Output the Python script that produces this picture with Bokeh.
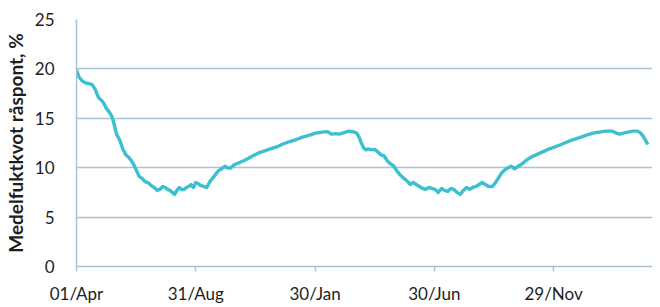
from datetime import date
from bokeh.plotting import figure
from bokeh.models import Range1d, FixedTicker
from bokeh.embed import file_html
from bokeh.resources import INLINE

# ---- data -------------------------------------------------------------
start_date = date(2011, 4, 1)
tick_dates = [date(2011, 4, 1), date(2011, 8, 31), date(2012, 1, 30),
              date(2012, 6, 30), date(2012, 11, 29)]
tick_labels = ["01/Apr", "31/Aug", "30/Jan", "30/Jun", "29/Nov"]

# days since 01/Apr
days = [0, 3, 7, 11, 16, 20, 24, 28, 32, 35, 38, 42, 45, 47, 51, 55, 59, 63, 67, 70,
        73, 76, 80, 84, 87, 91, 95, 99, 103, 106, 110, 113, 116, 119, 122, 125, 128, 131, 134, 137,
        140, 143, 146, 149, 152, 155, 158, 162, 166, 170, 174, 177, 181, 185, 189, 192, 196, 201, 207, 213,
        218, 225, 232, 240, 247, 255, 263, 272, 280, 288, 297, 305, 313, 320, 325, 330, 335, 341, 347, 352,
        357, 360, 363, 366, 369, 372, 376, 380, 384, 388, 392, 396, 400, 404, 408, 412, 416, 419, 422, 425,
        429, 433, 437, 441, 445, 449, 453, 457, 461, 465, 469, 473, 477, 481, 485, 489, 493, 497, 501, 505,
        509, 513, 517, 521, 525, 530, 534, 538, 542, 546, 550, 554, 558, 562, 568, 574, 580, 587, 594, 601,
        608, 616, 625, 633, 641, 650, 658, 666, 675, 683, 688, 692, 697, 703, 709, 715, 719, 722, 725, 728]
moisture = [19.9, 19.2, 18.8, 18.6, 18.5, 18.4, 17.9, 17.1, 16.8, 16.5, 16.0, 15.6, 15.2, 14.7, 13.4, 12.8, 11.9, 11.3, 11.0, 10.7,
            10.3, 9.8, 9.1, 8.9, 8.6, 8.5, 8.2, 8.0, 7.7, 7.8, 8.1, 8.0, 7.8, 7.7, 7.5, 7.3, 7.7, 8.0, 7.8, 7.8,
            8.0, 8.1, 8.3, 8.0, 8.5, 8.4, 8.2, 8.1, 8.0, 8.6, 9.0, 9.3, 9.7, 9.9, 10.15, 10.0, 9.95, 10.3, 10.5, 10.7,
            10.9, 11.2, 11.5, 11.7, 11.9, 12.1, 12.4, 12.65, 12.85, 13.1, 13.3, 13.5, 13.6, 13.65, 13.4, 13.45, 13.4, 13.55, 13.7, 13.65,
            13.5, 13.1, 12.5, 12.0, 11.8, 11.9, 11.8, 11.85, 11.6, 11.3, 11.2, 10.7, 10.4, 10.2, 9.7, 9.3, 9.0, 8.8, 8.6, 8.3,
            8.5, 8.3, 8.1, 7.9, 7.8, 8.0, 7.9, 7.8, 7.5, 7.9, 7.7, 7.6, 7.9, 7.8, 7.5, 7.3, 7.7, 8.0, 7.8, 8.0,
            8.1, 8.3, 8.5, 8.3, 8.1, 8.1, 8.5, 9.0, 9.5, 9.8, 10.0, 10.15, 9.9, 10.1, 10.4, 10.8, 11.1, 11.35, 11.6, 11.85,
            12.05, 12.3, 12.6, 12.85, 13.05, 13.3, 13.5, 13.6, 13.7, 13.7, 13.5, 13.4, 13.5, 13.6, 13.7, 13.7, 13.5, 13.2, 12.8, 12.35]

y_ticks = [0, 5, 10, 15, 20, 25]
y_label = "Medelfuktkvot råspont, %"

# ---- figure -----------------------------------------------------------
tick_days = [(d - start_date).days for d in tick_dates]

p = figure(width=652, height=306, output_backend="svg", toolbar_location=None,
           x_range=Range1d(0, 734), y_range=Range1d(0, 25),
           min_border_left=70, min_border_right=0, min_border_top=19, min_border_bottom=40)
p.outline_line_color = None
p.background_fill_color = "white"
p.border_fill_color = "white"

grid_col = "#a9c2d4"
text_col = "#1e1e1e"

p.line(days, moisture, line_color="#3cc0cf", line_width=3.4, line_join="round")

# x axis
p.xaxis.ticker = FixedTicker(ticks=tick_days)
p.xaxis.major_label_overrides = {t: l for t, l in zip(tick_days, tick_labels)}
p.xaxis.axis_line_color = grid_col
p.xaxis.axis_line_width = 1.5
p.xaxis.major_tick_line_color = grid_col
p.xaxis.major_tick_line_width = 1.5
p.xaxis.major_tick_out = 5
p.xaxis.major_tick_in = 0
p.xaxis.minor_tick_line_color = None
p.xaxis.major_label_standoff = 11
p.xaxis.major_label_text_font = "Lato"
p.xaxis.major_label_text_font_size = "17px"
p.xaxis.major_label_text_color = text_col

# y axis
p.yaxis.ticker = FixedTicker(ticks=y_ticks)
p.yaxis.axis_line_color = grid_col
p.yaxis.axis_line_width = 1.5
p.yaxis.major_tick_line_color = None
p.yaxis.minor_tick_line_color = None
p.yaxis.major_label_standoff = 16
p.yaxis.major_label_text_font = "Lato"
p.yaxis.major_label_text_font_size = "17px"
p.yaxis.major_label_text_color = text_col
p.yaxis.axis_label = y_label
p.yaxis.axis_label_text_font = "Lato"
p.yaxis.axis_label_text_font_style = "bold"
p.yaxis.axis_label_text_font_size = "19px"
p.yaxis.axis_label_text_color = text_col
p.yaxis.axis_label_standoff = 5

p.xgrid.grid_line_color = None
p.ygrid.ticker = FixedTicker(ticks=[5, 10, 15, 20, 25])
p.ygrid.grid_line_color = grid_col
p.ygrid.grid_line_width = 1.5

open("out.html", "w").write(file_html(p, INLINE))
